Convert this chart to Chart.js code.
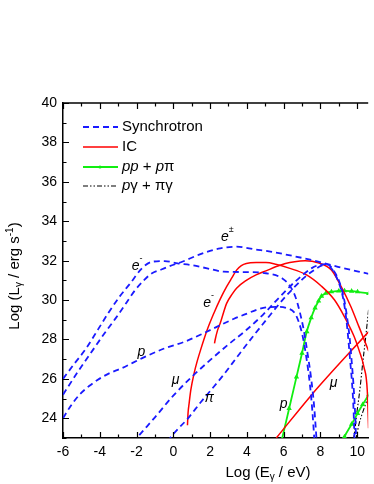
<!DOCTYPE html>
<html><head><meta charset="utf-8">
<script src="https://cdn.jsdelivr.net/npm/chart.js@4"></script>
<style>html,body{margin:0;padding:0;background:#fff}canvas{display:block}</style>
</head><body>
<canvas id="c" width="374" height="484"></canvas>
<script>
// ---- tick labels ----
const xTicks = [-6,-4,-2,0,2,4,6,8,10];
const yTicks = [24,26,28,30,32,34,36,38,40];

// ---- Synchrotron (blue dashed) ----
const syncElecX = [-6,-5.4,-4.74,-4.1,-3.49,-2.9,-2.34,-1.72,-1.18,-0.47,0.24,0.95,1.84,2.73,3.97,5.04,5.93,6.37,6.64,6.85,7.09,7.3,7.5,7.66,7.8];
const syncElecY = [26.0,26.75,27.55,28.5,29.41,30.2,30.85,31.6,31.94,31.98,31.86,31.78,31.61,31.44,31.42,31.36,31.1,30.68,30.17,29.5,28.5,27.3,26.0,24.6,22.8];
const syncPairX = [-6,-5.2,-4.38,-3.75,-3.14,-2.6,-2.07,-1.6,-1.18,-0.65,-0.2,0.42,1.48,2.55,3.44,4.51,5.04,6.28,7.53,8.95,10.63];
const syncPairY = [25.2,26.35,27.46,28.3,29.07,29.8,30.51,31.0,31.35,31.55,31.72,31.92,32.33,32.62,32.71,32.56,32.5,32.28,32.03,31.69,31.33];
const syncProtX = [-6,-5.6,-5.1,-4.56,-4.03,-3.49,-2.78,-1.72,-0.47,0.6,1.5,2.5,3.3,3.97,4.68,5.2,5.75,6.2,6.55,6.82,7.05,7.25,7.42,7.56,7.68];
const syncProtY = [24.0,24.6,25.2,25.65,26.0,26.28,26.55,27.04,27.55,27.88,28.25,28.7,29.05,29.3,29.55,29.64,29.65,29.58,29.4,28.9,28.1,27.0,25.8,24.4,22.8];
const syncMuonX = [-2.2,-1.98,-1,0,1,2,3,3.97,4.86,5.75,6.64,7.53,8.0,8.3,8.6,8.95,9.22,9.4,9.52,9.62,9.72,9.8,9.86];
const syncMuonY = [22.75,23.0,24.05,25.15,26.1,26.95,27.75,28.48,29.24,30.12,30.95,31.62,31.8,31.82,31.6,31.0,30.17,29.1,28.0,26.9,25.8,24.5,22.8];
const syncPionX = [-0.3,-0.12,0.8,1.48,2.2,2.73,3.5,4.33,5.04,6.1,7.17,7.7,8.06,8.4,8.72,9.04,9.3,9.47,9.6,9.7,9.8,9.88,9.95];
const syncPionY = [22.8,23.06,24.0,24.8,25.6,26.2,27.15,28.15,28.98,30.17,31.18,31.55,31.75,31.8,31.5,30.9,30.0,29.0,28.0,26.9,25.7,24.4,22.8];

// ---- IC (red) ----
const icElecX = [0.77,0.8,0.86,0.95,1.13,1.3,1.48,1.84,2.2,2.55,2.9,3.2,3.44,3.7,3.97,4.5,5.04,5.57,6.3,7.2,8.06,8.77,9.31,9.84,10.1,10.37,10.55,10.62];
const icElecY = [23.65,24.25,24.76,25.43,26.28,26.9,27.46,28.48,29.32,30.05,30.68,31.15,31.52,31.75,31.86,31.9,31.9,31.82,31.62,31.3,30.7,30.0,29.15,28.14,27.46,26.6,25.4,23.5];
const icPairX = [2.24,2.28,2.4,2.55,2.9,3.2,3.44,3.97,4.5,5.04,5.6,6.1,6.6,7.17,7.88,8.6,9.13,9.66,10.1,10.63];
const icPairY = [27.8,28.0,28.45,28.82,29.83,30.3,30.6,31.0,31.28,31.48,31.7,31.86,31.95,31.99,31.89,31.52,30.68,29.66,28.64,27.4];
const icMuonX = [5.6,7.53,10.63];
const icMuonY = [23.0,25.2,28.4];

// ---- pp + pπ (green) ----
const ppProtX = [5.9,6.3,6.7,7.0,7.26,7.5,7.71,7.9,8.06,8.3,8.6,9.0,9.31,9.7,10.02,10.63];
const ppProtY = [22.9,24.5,26.1,27.3,28.4,29.1,29.6,29.95,30.2,30.35,30.42,30.46,30.47,30.45,30.42,30.33];
const ppMuonX = [9.25,9.31,9.7,10.02,10.3,10.63];
const ppMuonY = [22.9,23.06,23.7,24.25,24.7,25.2];

// ---- pγ + πγ (black dash-dot) ----
const pgAX = [9.8,9.9,10.0,10.1,10.2,10.3,10.45,10.63];
const pgAY = [22.9,23.6,24.4,25.1,25.9,26.8,28.0,29.6];
const pgBX = [9.92,10.1,10.3,10.45,10.63];
const pgBY = [22.9,23.7,24.3,24.7,25.2];

// ---- curve labels (data coordinates) ----
const curveLabels = [
  {main:'e', sup:'-', x:-2.05, y:31.73},
  {main:'e', sup:'±', x:2.8, y:33.2},
  {main:'e', sup:'-', x:1.84, y:29.85},
  {main:'p', sup:'', x:-1.73, y:27.36},
  {main:'μ', sup:'', x:0.13, y:25.94},
  {main:'π', sup:'', x:1.95, y:25.03},
  {main:'p', sup:'', x:6.0, y:24.72},
  {main:'μ', sup:'', x:8.72, y:25.79}
];

const FAM = '"Liberation Sans", Arial, sans-serif';
const BLUE = '#1a1aff', RED = '#ff0000', GREEN = '#11ee11', BLACK = '#000000';
const pts = (xs, ys) => xs.map((x, i) => ({x, y: ys[i]}));
const SYNC_DASH = [6,4];
const PG_DASH = [5,2,1.5,2,1.5,2];

function ds(xs, ys, color, width, dash, extra) {
  return Object.assign({
    data: pts(xs, ys), showLine: true, borderColor: color, backgroundColor: color,
    borderWidth: width, borderDash: dash, pointRadius: 0, fill: false,
    cubicInterpolationMode: 'monotone'
  }, extra || {});
}

const datasets = [
  ds(syncElecX, syncElecY, BLUE, 1.8, SYNC_DASH),
  ds(syncPairX, syncPairY, BLUE, 1.8, SYNC_DASH),
  ds(syncProtX, syncProtY, BLUE, 1.8, SYNC_DASH),
  ds(syncMuonX, syncMuonY, BLUE, 1.8, SYNC_DASH),
  ds(syncPionX, syncPionY, BLUE, 1.8, SYNC_DASH),
  ds(icElecX, icElecY, RED, 1.5, []),
  ds(icPairX, icPairY, RED, 1.5, []),
  ds(icMuonX, icMuonY, RED, 1.5, []),
  ds(ppProtX, ppProtY, GREEN, 1.8, [], {pointRadius: 1.3, pointStyle: 'triangle'}),
  ds(ppMuonX, ppMuonY, GREEN, 1.8, [], {pointRadius: 1.3, pointStyle: 'triangle'}),
  ds(pgAX, pgAY, BLACK, 1.1, PG_DASH),
  ds(pgBX, pgBY, BLACK, 1.1, PG_DASH)
];

function drawRich(ctx, x, y, parts, align) {
  let w = 0;
  parts.forEach(p => { ctx.font = p.font; w += ctx.measureText(p.t).width; });
  let cx = align === 'center' ? x - w / 2 : x;
  ctx.textBaseline = 'middle';
  ctx.textAlign = 'left';
  parts.forEach(p => {
    ctx.font = p.font;
    ctx.fillText(p.t, cx, y + (p.dy || 0));
    cx += ctx.measureText(p.t).width;
  });
}

const decor = {
  id: 'decor',
  afterDraw(chart) {
    const ctx = chart.ctx, a = chart.chartArea, xs = chart.scales.x, ys = chart.scales.y;
    ctx.save();
    ctx.strokeStyle = '#000'; ctx.fillStyle = '#000';
    // top axis line
    ctx.lineWidth = 1.5; ctx.setLineDash([]);
    ctx.beginPath(); ctx.moveTo(a.left - 0.75, a.top); ctx.lineTo(a.right, a.top); ctx.stroke();
    // tick marks (inward)
    ctx.lineWidth = 1.2;
    ctx.beginPath();
    for (let v = -6; v <= 10; v++) {
      const px = Math.round(xs.getPixelForValue(v)) + 0.5;
      const len = v % 2 === 0 ? 6 : 3.5;
      ctx.moveTo(px, a.bottom); ctx.lineTo(px, a.bottom - len);
      ctx.moveTo(px, a.top); ctx.lineTo(px, a.top + len);
    }
    for (let v = 23; v <= 40; v++) {
      const py = Math.round(ys.getPixelForValue(v)) + 0.5;
      const len = v % 2 === 0 ? 6 : 3.5;
      ctx.moveTo(a.left, py); ctx.lineTo(a.left + len, py);
    }
    ctx.stroke();

    // axis titles
    const f15 = '15px ' + FAM, f10 = '10px ' + FAM;
    drawRich(ctx, 268, 473, [
      {t:'Log (E', font:f15}, {t:'γ', font:f10, dy:4}, {t:' / eV)', font:f15}
    ], 'center');
    ctx.save();
    ctx.translate(15, 276); ctx.rotate(-Math.PI / 2);
    drawRich(ctx, 0, 0, [
      {t:'Log (L', font:f15}, {t:'γ', font:f10, dy:4}, {t:' / erg s', font:f15},
      {t:'-1', font:f10, dy:-5}, {t:')', font:f15}
    ], 'center');
    ctx.restore();

    // legend
    const lx0 = 83, lx1 = 118, tx = 122;
    const rows = [127, 147, 167, 186];
    const it15 = 'italic 15px ' + FAM;
    ctx.lineWidth = 1.8; ctx.strokeStyle = BLUE; ctx.setLineDash(SYNC_DASH);
    ctx.beginPath(); ctx.moveTo(lx0, rows[0]); ctx.lineTo(lx1, rows[0]); ctx.stroke();
    ctx.lineWidth = 1.5; ctx.strokeStyle = RED; ctx.setLineDash([]);
    ctx.beginPath(); ctx.moveTo(lx0, rows[1]); ctx.lineTo(lx1, rows[1]); ctx.stroke();
    ctx.lineWidth = 1.8; ctx.strokeStyle = GREEN;
    ctx.beginPath(); ctx.moveTo(lx0, rows[2]); ctx.lineTo(lx1, rows[2]); ctx.stroke();
    ctx.fillStyle = GREEN; ctx.beginPath(); ctx.arc(100, rows[2], 1.6, 0, 2 * Math.PI); ctx.fill();
    ctx.lineWidth = 1.1; ctx.strokeStyle = BLACK; ctx.setLineDash(PG_DASH);
    ctx.beginPath(); ctx.moveTo(lx0, rows[3]); ctx.lineTo(lx1, rows[3]); ctx.stroke();
    ctx.setLineDash([]);
    ctx.fillStyle = '#000';
    drawRich(ctx, tx, rows[0], [{t:'Synchrotron', font:f15}]);
    drawRich(ctx, tx, rows[1], [{t:'IC', font:f15}]);
    drawRich(ctx, tx, rows[2], [{t:'pp', font:it15}, {t:' + ', font:f15}, {t:'p', font:it15}, {t:'π', font:f15}]);
    drawRich(ctx, tx, rows[3], [{t:'p', font:it15}, {t:'γ', font:f15}, {t:' + ', font:f15}, {t:'π', font:f15}, {t:'γ', font:f15}]);

    // curve labels
    const it14 = 'italic 14px ' + FAM, sup9 = '9px ' + FAM;
    curveLabels.forEach(l => {
      const px = xs.getPixelForValue(l.x), py = ys.getPixelForValue(l.y);
      ctx.font = it14; ctx.textAlign = 'center'; ctx.textBaseline = 'middle';
      ctx.fillText(l.main, px, py);
      if (l.sup) {
        const w = ctx.measureText(l.main).width;
        ctx.font = sup9; ctx.textAlign = 'left';
        ctx.fillText(l.sup, px + w / 2, py - 7);
      }
    });
    ctx.restore();
  }
};

new Chart(document.getElementById('c'), {
  type: 'scatter',
  data: { datasets },
  options: {
    responsive: false, animation: false, devicePixelRatio: 1,
    layout: { padding: { top: 103, left: 0, right: 0, bottom: 0 } },
    plugins: { legend: { display: false }, tooltip: { enabled: false } },
    scales: {
      x: {
        type: 'linear', min: -6, max: 10.6,
        afterBuildTicks: s => { s.ticks = xTicks.map(v => ({ value: v })); },
        afterFit: s => { s.height = 46; },
        ticks: { font: { size: 14, family: FAM }, color: '#000', padding: 6, maxRotation: 0, autoSkip: false },
        grid: { display: false, drawTicks: false },
        border: { display: true, color: '#000', width: 1.5 }
      },
      y: {
        type: 'linear', min: 23, max: 40,
        afterBuildTicks: s => { s.ticks = yTicks.map(v => ({ value: v })); },
        afterFit: s => { s.width = 63; },
        ticks: { font: { size: 14, family: FAM }, color: '#000', padding: 6, autoSkip: false },
        grid: { display: false, drawTicks: false },
        border: { display: true, color: '#000', width: 1.5 }
      }
    }
  },
  plugins: [decor]
});
</script>
</body></html>
